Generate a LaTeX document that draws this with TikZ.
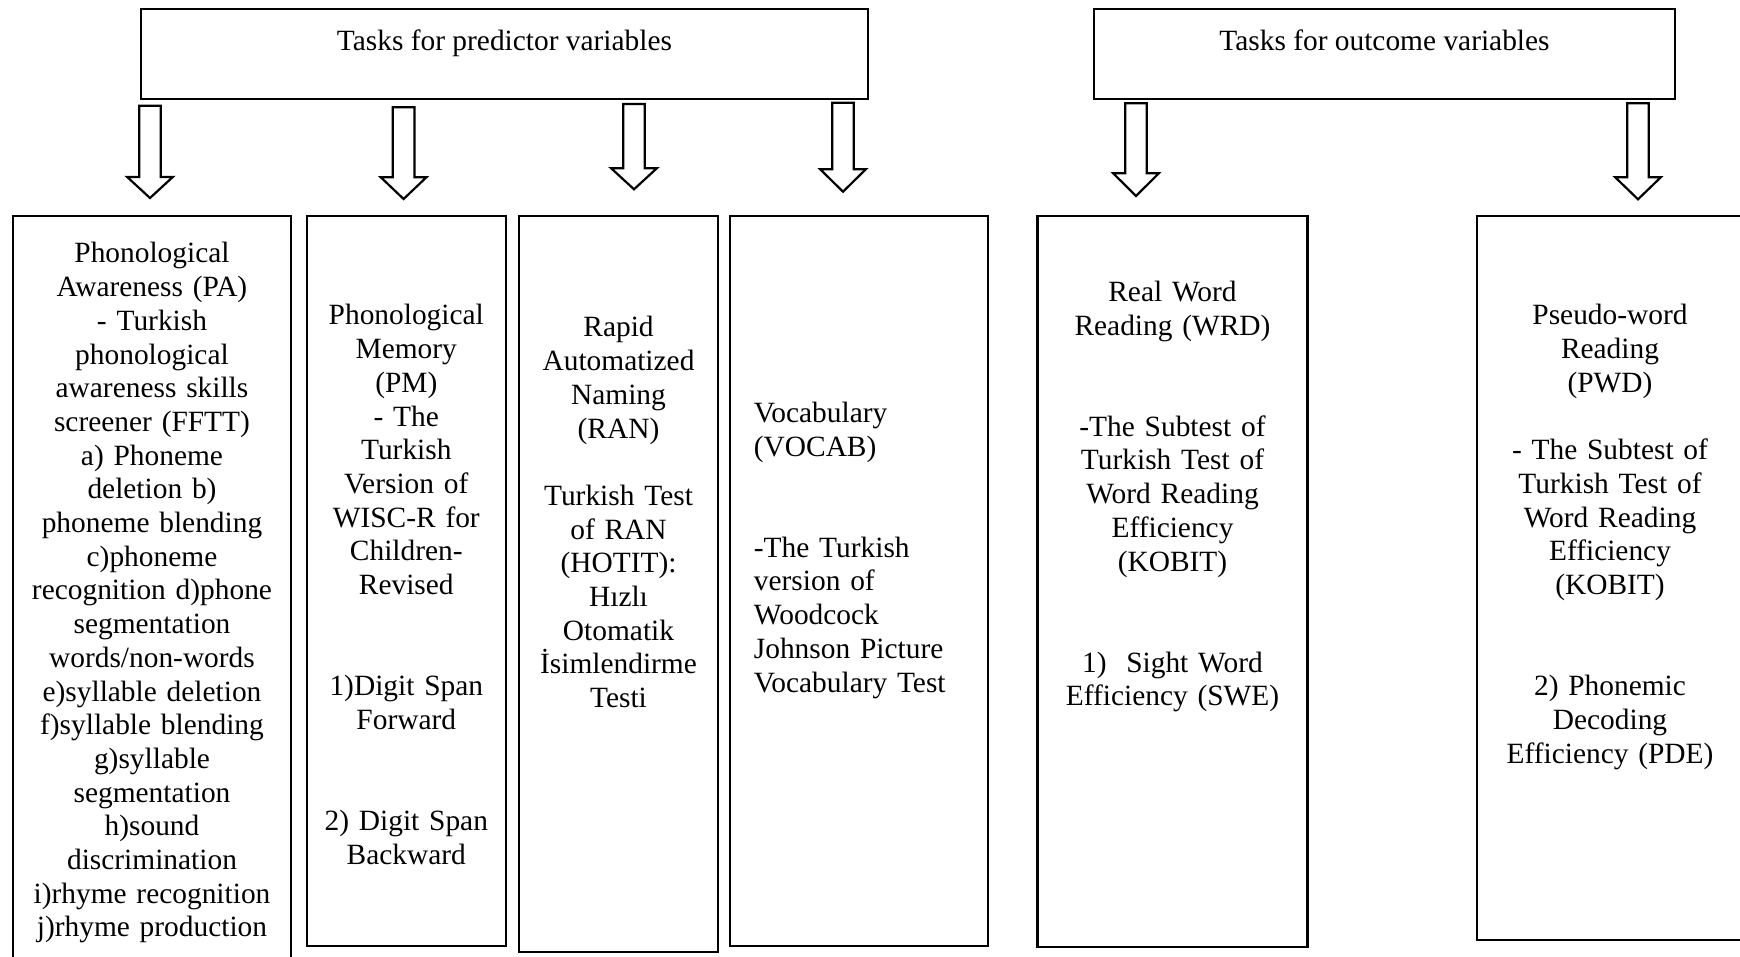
\documentclass[tikz,border=0pt]{standalone}
\usepackage{fontspec}
\setmainfont{Liberation Serif}
\usetikzlibrary{fit}
\tikzset{
  boxst/.style={draw, line width=1.3pt, inner sep=0pt},
  txt/.style={font=\fontsize{14.7}{16.85}\selectfont, align=center, anchor=north, inner sep=0pt},
  ttl/.style={font=\fontsize{14.7}{16.85}\selectfont, anchor=base, inner sep=0pt},
  barrow/.style={draw, line width=1.1pt, fill=white, line join=miter},
}
\newcommand\blockarr[5]{%
  \coordinate (#1s) at (#2,#3);
  \coordinate (#1e) at (#2,#5);
  \draw[barrow] (#2-10.8,#3) -- (#2+10.8,#3) -- (#2+10.8,#4) -- (#2+22.8,#4)
    -- (#1e) -- (#2-22.8,#4) -- (#2-10.8,#4) -- cycle;}
\begin{document}
\begin{tikzpicture}[x=0.5pt,y=-0.5pt]
\useasboundingbox (0,0) rectangle (1740,957);
\clip (0,0) rectangle (1740,957);
\fill[white] (0,0) rectangle (1740,957);

% top boxes
\node[boxst, fit={(141,9) (868,99)}] (pred) {};
\node[boxst, fit={(1094,9) (1675,99)}] (outc) {};
\node[ttl] (predt) at (504.5,50.5) {Tasks for predictor variables};
\node[ttl] (outct) at (1384.5,50.5) {Tasks for outcome variables};

% bottom boxes
\node[boxst, fit={(13,216) (291,1000)}] (pa) {};
\node[boxst, fit={(307,216) (506,946)}] (pm) {};
\node[boxst, fit={(519,216) (718,952)}] (ran) {};
\node[boxst, fit={(730,216) (988,946)}] (voc) {};
\node[boxst, fit={(1037.5,216) (1307.5,947)}] (wrd) {};
\node[boxst, fit={(1477,216) (1746,940)}] (pwd) {};

% arrows
\blockarr{a1}{150}{105.7}{177}{198}
\blockarr{a2}{403.6}{107.3}{177.3}{199}
\blockarr{a3}{634}{104}{168.3}{189.3}
\blockarr{a4}{843}{102.7}{169.3}{191.7}
\blockarr{a5}{1136}{103.3}{173.3}{196}
\blockarr{a6}{1638}{103.3}{177.3}{199.3}

% texts
\node[txt, text width=134pt] (pat) at (152,239) {\strut Phonological\\ Awareness (PA)\\ - Turkish\\ phonological\\ awareness skills\\ screener (FFTT)\\ a) Phoneme\\ deletion b)\\ phoneme blending\\ c)phoneme\\ recognition d)phone\\ segmentation\\ words/non-words\\ e)syllable deletion\\ f)syllable blending\\ g)syllable\\ segmentation\\ h)sound\\ discrimination\\ i)rhyme recognition\\ j)rhyme production};

\node[txt, text width=96pt] (pmt) at (406.3,301) {\strut Phonological\\ Memory\\ (PM)\\ - The\\ Turkish\\ Version of\\ WISC-R for\\ Children-\\ Revised\\ \strut\\ \strut\\ 1)Digit Span\\ Forward\\ \strut\\ \strut\\ 2) Digit Span\\ Backward};

\node[txt, text width=96pt] (rant) at (618.5,313) {\strut Rapid\\ Automatized\\ Naming\\ (RAN)\\ \strut\\ Turkish Test\\ of RAN\\ (HOTIT):\\ Hızlı\\ Otomatik\\ İsimlendirme\\ Testi};

\node[txt, align=left, anchor=north west, text width=112pt] (voct) at (753.5,398.5) {\strut Vocabulary\\ (VOCAB)\\ \strut\\ \strut\\ -The Turkish\\ version of\\ Woodcock\\ Johnson Picture\\ Vocabulary Test};

\node[txt, text width=126pt] (wrdt) at (1172.5,277.5) {\strut Real Word\\ Reading (WRD)\\ \strut\\ \strut\\ -The Subtest of\\ Turkish Test of\\ Word Reading\\ Efficiency\\ (KOBIT)\\ \strut\\ \strut\\ 1)~~Sight Word\\ Efficiency (SWE)};

\node[txt, text width=126pt] (pwdt) at (1610,301) {\strut Pseudo-word\\ Reading\\ (PWD)\\ \strut\\ - The Subtest of\\ Turkish Test of\\ Word Reading\\ Efficiency\\ (KOBIT)\\ \strut\\ \strut\\ 2) Phonemic\\ Decoding\\ Efficiency (PDE)};
\end{tikzpicture}
\end{document}
